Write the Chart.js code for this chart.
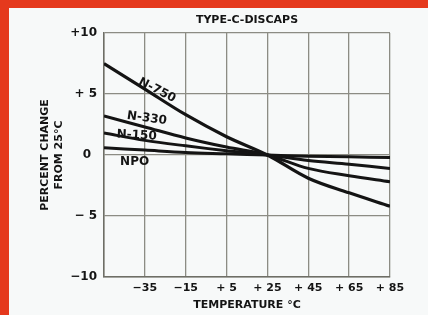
<!DOCTYPE html>
<html>
<head>
<meta charset="utf-8">
<script src="https://cdn.jsdelivr.net/npm/chart.js@4"></script>
<style>
    html, body { margin: 0; padding: 0; background: #f7f9f9; }
    .frame {
        width: 428px;
        height: 315px;
        box-sizing: border-box;
        border-top: 8px solid #e5391d;
        border-left: 9px solid #e5391d;
        background: #f7f9f9;
    }
    canvas { display: block; }
</style>
</head>
<body>
<div class="frame">
    <canvas id="chart-discaps" width="419" height="307"></canvas>
</div>
<script>
const temperatures = [-55, -35, -15, 5, 25, 45, 65, 85];
const seriesNames = ["N-750", "N-330", "N-150", "NPO"];
const n750 = [7.5, 5.4, 3.3, 1.5, 0, -1.9, -3.1, -4.2];
const n330 = [3.2, 2.3, 1.4, 0.65, 0, -1.1, -1.7, -2.2];
const n150 = [1.8, 1.2, 0.75, 0.35, 0, -0.45, -0.75, -1.1];
const npo = [0.6, 0.4, 0.2, 0.1, 0, -0.1, -0.15, -0.2];
const xTickLabels = ["", "\u221235", "\u221215", "+ 5", "+ 25", "+ 45", "+ 65", "+ 85"];
const yTickLabels = ["\u221210", "\u2212 5", "0\u2002", "+ 5", "+10"];

const ink = "#141414";
const gridColor = "#8c8c84";
const axisFont = { family: "DejaVu Sans", weight: "bold", size: 11 };

// where each curve name sits, in data units, and its slant
const curveLabels = [
    { t: -29, v: 5.3, angle: 27 },
    { t: -34, v: 3.0, angle: 8 },
    { t: -39, v: 1.6, angle: 3 },
    { t: -40, v: -0.55, angle: 0 },
];

const toPoints = (values) => values.map((v, i) => ({ x: temperatures[i], y: v }));

const labelPlugin = {
    id: "curveLabels",
    afterDatasetsDraw(chart) {
        const { ctx, chartArea, scales } = chart;
        ctx.save();
        ctx.fillStyle = ink;
        ctx.textAlign = "center";
        ctx.textBaseline = "middle";
        ctx.font = "bold 11px 'DejaVu Sans'";
        ctx.fillText("TYPE-C-DISCAPS", (chartArea.left + chartArea.right) / 2, 12);

        ctx.font = "bold 12px 'DejaVu Sans'";
        curveLabels.forEach((lab, i) => {
            const px = scales.x.getPixelForValue(lab.t);
            const py = scales.y.getPixelForValue(lab.v);
            ctx.save();
            ctx.translate(px, py);
            ctx.rotate((lab.angle * Math.PI) / 180);
            ctx.fillText(seriesNames[i], 0, 0);
            ctx.restore();
        });
        ctx.restore();
    },
};

const allSeries = [n750, n330, n150, npo];

const ctx = document.getElementById("chart-discaps").getContext("2d");
new Chart(ctx, {
    type: "line",
    data: {
        datasets: allSeries.map((values, i) => ({
            label: seriesNames[i],
            data: toPoints(values),
            borderColor: ink,
            borderWidth: i === 0 ? 3.2 : 3,
            pointRadius: 0,
            tension: 0.35,
            fill: false,
        })),
    },
    options: {
        responsive: false,
        animation: false,
        layout: { padding: { top: 25, right: 38, left: 0, bottom: 0 } },
        plugins: {
            legend: { display: false },
            tooltip: { enabled: false },
            title: { display: false },
        },
        scales: {
            x: {
                type: "linear",
                min: -55,
                max: 85,
                afterFit: (scale) => { scale.height = 38; },
                ticks: {
                    stepSize: 20,
                    autoSkip: false,
                    maxRotation: 0,
                    padding: 5,
                    color: ink,
                    font: axisFont,
                    callback: (value) => xTickLabels[temperatures.indexOf(value)] ?? "",
                },
                grid: { color: gridColor, lineWidth: 1.3, drawTicks: false },
                border: { color: "#6e6e66", width: 1.5 },
                title: {
                    display: true,
                    text: "TEMPERATURE \u00b0C",
                    color: ink,
                    font: axisFont,
                    padding: { top: 0, bottom: 3 },
                },
            },
            y: {
                min: -10,
                max: 10,
                afterFit: (scale) => { scale.width = 95; },
                ticks: {
                    stepSize: 5,
                    padding: 7,
                    color: ink,
                    font: { family: "DejaVu Sans", weight: "bold", size: 12 },
                    callback: (value) => yTickLabels[(value + 10) / 5] ?? "",
                },
                grid: { color: gridColor, lineWidth: 1.3, drawTicks: false },
                border: { color: "#6e6e66", width: 1.5 },
                title: {
                    display: true,
                    text: ["PERCENT CHANGE", "FROM 25\u00b0C"],
                    color: ink,
                    font: { family: "DejaVu Sans", weight: "bold", size: 11, lineHeight: 1.3 },
                    padding: { top: 29, bottom: 0 },
                },
            },
        },
    },
    plugins: [labelPlugin],
});
</script>
</body>
</html>
